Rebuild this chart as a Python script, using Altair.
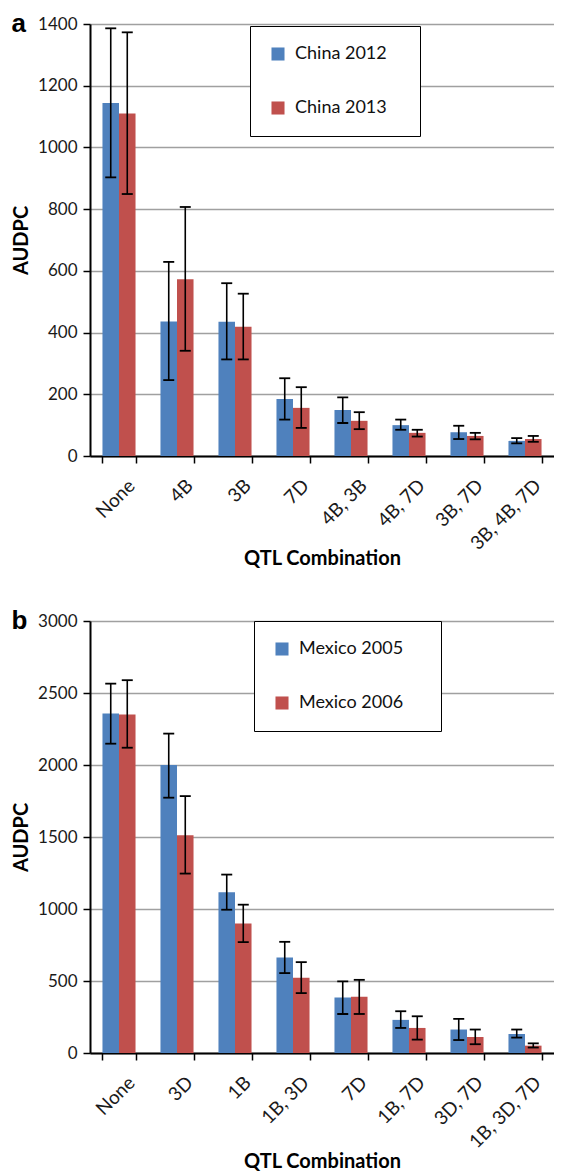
import altair as alt
import pandas as pd

# ---- Panel a data ----
cats_a = ["None", "4B", "3B", "7D", "4B, 3B", "4B, 7D", "3B, 7D", "3B, 4B, 7D"]
series_a = ["China 2012", "China 2013"]
china2012 = [1144, 436, 435, 185, 149, 100, 77, 49]
china2012_lo = [903, 246, 313, 118, 107, 85, 55, 41]
china2012_hi = [1386, 629, 560, 252, 190, 118, 98, 58]
china2013 = [1110, 573, 419, 156, 114, 75, 65, 55]
china2013_lo = [849, 341, 313, 91, 87, 63, 54, 46]
china2013_hi = [1373, 807, 526, 223, 142, 85, 75, 65]
yticks_a = [0, 200, 400, 600, 800, 1000, 1200, 1400]

# ---- Panel b data ----
cats_b = ["None", "3D", "1B", "1B, 3D", "7D", "1B, 7D", "3D, 7D", "1B, 3D, 7D"]
series_b = ["Mexico 2005", "Mexico 2006"]
mexico2005 = [2357, 2000, 1116, 664, 385, 230, 163, 132]
mexico2005_lo = [2148, 1773, 995, 555, 271, 174, 90, 107]
mexico2005_hi = [2565, 2218, 1239, 772, 497, 290, 237, 163]
mexico2006 = [2350, 1513, 900, 522, 390, 174, 111, 51]
mexico2006_lo = [2120, 1246, 770, 416, 271, 93, 61, 38]
mexico2006_hi = [2589, 1784, 1030, 631, 508, 255, 163, 67]
yticks_b = [0, 500, 1000, 1500, 2000, 2500, 3000]

colors = ["#4F81BD", "#C0504D"]
FONT = "Lato"


def make_df(cats, names, vals, los, his):
    rows = []
    for name, v, lo, hi in zip(names, vals, los, his):
        for c, a, b, d in zip(cats, v, lo, hi):
            rows.append({"cat": c, "series": name, "value": a, "lo": b, "hi": d})
    return pd.DataFrame(rows)


def panel(letter, cats, names, vals, los, his, yticks, lx, ly, trail, tpad):
    df = make_df(cats, names, vals, los, his)
    base = alt.Chart(df)
    x = alt.X(
        "cat:N", sort=cats, title="QTL Combination",
        scale=alt.Scale(paddingInner=0.43, paddingOuter=0.215),
        axis=alt.Axis(labelAngle=-45, labelAlign="right", labelBaseline="top",
                      labelOffset=6, labelFontSize=19,
                      tickBand="extent", grid=False, labelPadding=13,
                      titlePadding=tpad),
    )
    xo = alt.XOffset("series:N", sort=names,
                     scale=alt.Scale(paddingInner=0, paddingOuter=0))
    y = alt.Y(
        "value:Q", title="AUDPC",
        scale=alt.Scale(domain=[yticks[0], yticks[-1]], nice=False),
        axis=alt.Axis(values=yticks, format="d", labelPadding=6, titlePadding=6),
    )
    pad = "\u00a0" * trail + "\u200b"
    bars = base.mark_bar().encode(
        x=x, xOffset=xo, y=y,
        color=alt.Color(
            "series:N", sort=names,
            scale=alt.Scale(domain=names, range=colors),
            legend=alt.Legend(
                title=None, orient="none", legendX=lx, legendY=ly,
                strokeColor="black", fillColor="white", padding=19,
                rowPadding=36, symbolType="square", symbolSize=170,
                symbolStrokeWidth=0, labelFont=FONT, labelFontSize=18,
                labelColor="#111", labelOffset=8,
                labelExpr="datum.label + '" + pad + "'",
            ),
        ),
    )
    rules = base.mark_rule(color="black", strokeWidth=1.6).encode(
        x=x, xOffset=xo, y="lo:Q", y2="hi:Q")
    cap_hi = base.mark_tick(color="black", thickness=1.8, size=11, opacity=1).encode(
        x=x, xOffset=xo, y="hi:Q")
    cap_lo = base.mark_tick(color="black", thickness=1.8, size=11, opacity=1).encode(
        x=x, xOffset=xo, y="lo:Q")
    return alt.layer(bars, rules, cap_hi, cap_lo).properties(
        width=464, height=432,
        title=alt.TitleParams(letter, anchor="start", frame="bounds", fontSize=26,
                              font="Liberation Sans", fontWeight="bold", offset=-22,
                              color="black"),
    )


pa = panel("a", cats_a, series_a, [china2012, china2013],
           [china2012_lo, china2013_lo], [china2012_hi, china2013_hi], yticks_a,
           160, 2, 3, -5)
pb = panel("b", cats_b, series_b, [mexico2005, mexico2006],
           [mexico2005_lo, mexico2006_lo], [mexico2005_hi, mexico2006_hi], yticks_b,
           164, 0, 4, 0)

chart = alt.vconcat(pa, pb, spacing=39).resolve_scale(
    color="independent", x="independent", y="independent", xOffset="independent"
).resolve_legend(color="independent").properties(
    padding={"left": 3, "top": 3, "right": 0, "bottom": 0}
).configure_view(stroke=None).configure_axis(
    domainColor="black", domainWidth=2, tickColor="black", tickWidth=1.5, tickSize=7,
    labelFont=FONT, labelFontSize=17, labelColor="#1a1a1a",
    titleFont=FONT, titleFontSize=20, titleFontWeight="bold", titleColor="black",
    gridColor="#a0a0a0", gridWidth=1.5,
)

chart.save("out.html", embed_options={"renderer": "svg", "actions": False})
